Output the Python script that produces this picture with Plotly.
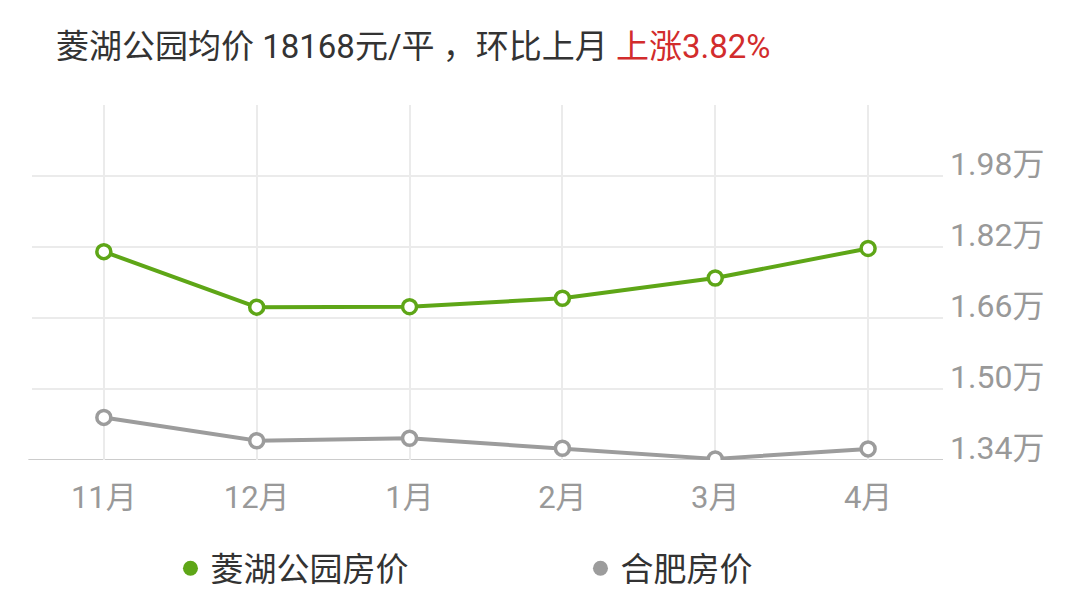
import plotly.graph_objects as go

months = ["11月", "12月", "1月", "2月", "3月", "4月"]
linghu_price = [18095, 16845, 16855, 17045, 17500, 18168]
hefei_price = [14360, 13835, 13890, 13665, 13425, 13650]
ytick_vals = [13400, 15000, 16600, 18200, 19800]
ytick_text = ["1.34万", "1.50万", "1.66万", "1.82万", "1.98万"]
series_names = ["菱湖公园房价", "合肥房价"]

GREEN = "#5ea617"
GRAY = "#9c9c9c"
FONT = "Roboto, 'Noto Sans CJK SC', sans-serif"

fig = go.Figure()
for name, vals, col in [(series_names[0], linghu_price, GREEN), (series_names[1], hefei_price, GRAY)]:
    fig.add_trace(go.Scatter(
        x=months, y=vals, mode="lines+markers", name=name, showlegend=False,
        line=dict(color=col, width=4),
        marker=dict(symbol="circle", size=14, color="white", line=dict(color=col, width=3.5)),
    ))
    fig.add_trace(go.Scatter(
        x=[None], y=[None], mode="markers", name=name,
        marker=dict(symbol="circle", size=15, color=col),
    ))

fig.update_layout(
    width=1080, height=606,
    margin=dict(l=24, r=145, t=97, b=154, autoexpand=False),
    paper_bgcolor="white", plot_bgcolor="white",
    font=dict(family=FONT, color="#333333"),
    title=dict(
        text="菱湖公园均价 18168元/平 ，环比上月 <span style='color:#d22c2c'>上涨3.82%</span>",
        x=48 / 1080, xref="container", xanchor="left",
        y=1 - 38 / 606, yref="container", yanchor="middle",
        font=dict(size=33, color="#333333", family=FONT),
    ),
    xaxis=dict(
        type="category", range=[-0.47, 5.49], automargin=False,
        showgrid=True, gridcolor="#ebebeb", gridwidth=1.5,
        showline=False, zeroline=False, ticks="",
        tickfont=dict(size=31, color="#999999"),
        ticklabelstandoff=16,
    ),
    yaxis=dict(
        side="right", range=[13400, 21400], automargin=False,
        tickvals=ytick_vals, ticktext=ytick_text,
        showgrid=True, gridcolor="#ebebeb", gridwidth=1.5,
        zeroline=False, showline=False, ticks="",
        ticklabelposition="outside",
        ticklabelshift=-12,
        tickfont=dict(size=32, color="#999999"),
        ticklabelstandoff=6,
    ),
    legend=dict(
        orientation="h", x=0.152, xanchor="left", y=-0.305, yanchor="middle",
        font=dict(size=33, color="#333333", family=FONT),
        entrywidth=365, entrywidthmode="pixels",
        itemsizing="trace",
    ),
    showlegend=True,
)

fig.add_shape(type="line", xref="paper", yref="y", x0=-0.004, x1=1, y0=13400, y1=13400,
              line=dict(color="#cccccc", width=2), layer="below")

fig.write_html("out.html")
